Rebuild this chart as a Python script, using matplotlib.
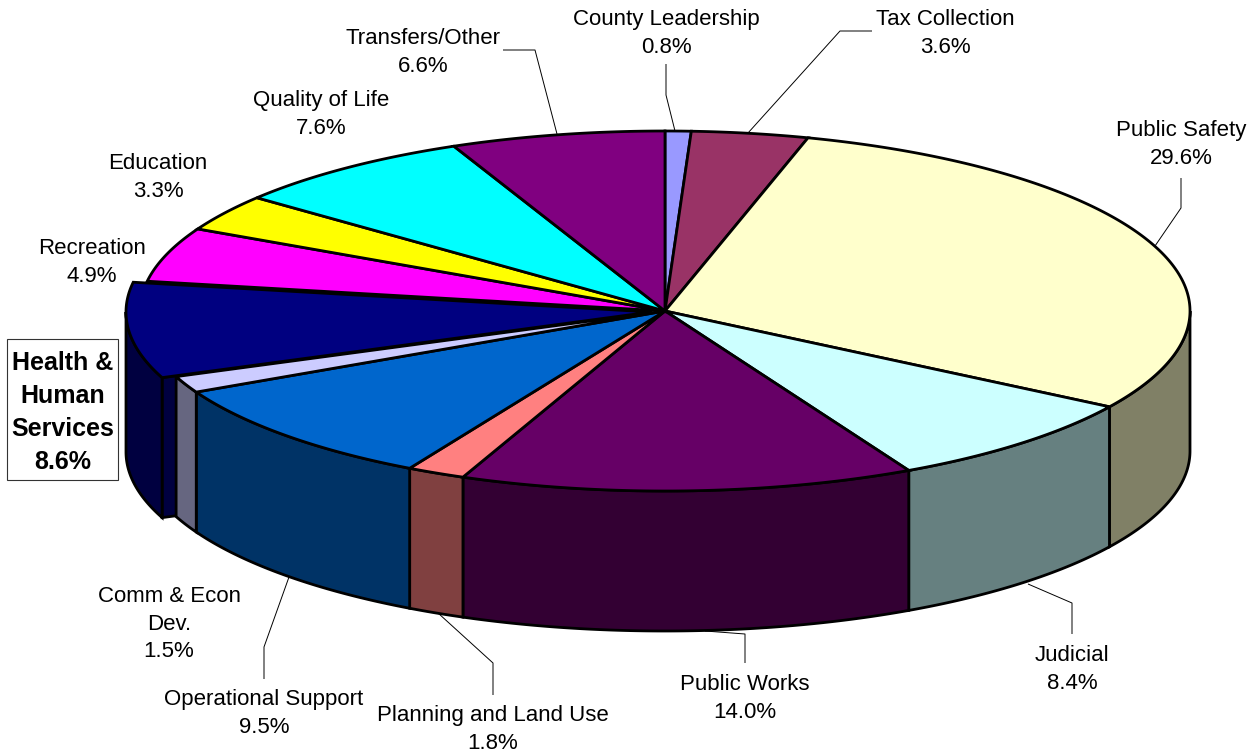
import numpy as np
import matplotlib
matplotlib.use('Agg')
import matplotlib.pyplot as plt
from matplotlib.patches import Polygon, Rectangle

labels = ["County Leadership", "Tax Collection", "Public Safety", "Judicial", "Public Works",
          "Planning and Land Use", "Operational Support", "Comm & Econ\nDev.",
          "Health &\nHuman\nServices", "Recreation", "Education", "Quality of Life", "Transfers/Other"]
shares = [0.8, 3.6, 29.6, 8.4, 14.0, 1.8, 9.5, 1.5, 8.6, 4.9, 3.3, 7.6, 6.6]

top_colors = ['#9999FF', '#993366', '#FFFFCC', '#CCFFFF', '#660066', '#FF8080', '#0066CC',
              '#CCCCFF', '#000080', '#FF00FF', '#FFFF00', '#00FFFF', '#800080']
side_colors = ['#4D4D80', '#4D1A33', '#808066', '#668080', '#330033', '#804040', '#003366',
               '#666680', '#000040', '#800080', '#808000', '#008080', '#400040']

# pie geometry in pixels
cx, cy = 665, 311
rx, ry = 525, 180
depth = 140
exploded = 8
explode_dx, explode_dy = -14, 1

# label text position (x centre, y of first line centre)
label_pos = [(666, 17), (945, 17), (1181, 128), (1072, 653), (745, 682), (493, 713),
             (264, 697), (169, 594), (63, 361), (92, 246), (158, 161), (321, 98), (423, 36)]
leaders = [
    [(666, 64), (666, 95), (675, 131)],
    [(872, 31), (840, 31), (748, 133)],
    [(1181, 178), (1181, 208), (1155, 246)],
    [(1028, 584), (1072, 603), (1072, 634)],
    [(705, 631), (745, 634), (745, 663)],
    [(438, 613), (493, 663), (493, 695)],
    [(289, 577), (264, 647), (264, 679)],
    [(503, 50), (535, 50), (557, 134)],
]

plt.rcParams['font.family'] = ['Liberation Sans', 'DejaVu Sans']
OUTLINE = 2.0
FONT = 16.0


def rim(t0, t1, dx=0, dy=0):
    t = np.linspace(t0, t1, max(int(abs(t1 - t0) * 120), 2))
    return np.column_stack([cx + dx + rx * np.sin(t), cy + dy - ry * np.cos(t)])


def add_poly(ax, pts, color):
    ax.add_patch(Polygon(pts, closed=True, facecolor=color, edgecolor='black',
                         linewidth=OUTLINE, joinstyle='miter'))


def draw_wall(ax, t0, t1, color, dx=0, dy=0):
    # outer wall, only the front half of the rim can be seen
    t0, t1 = max(t0, np.pi / 2), min(t1, 3 * np.pi / 2)
    if t1 <= t0:
        return
    edge = rim(t0, t1, dx, dy)
    add_poly(ax, np.vstack([edge, edge[::-1] + [0, depth]]), color)


def main():
    fig = plt.figure(figsize=(12.52, 7.55), dpi=100)
    ax = fig.add_axes([0, 0, 1, 1])
    ax.set_xlim(0, 1252)
    ax.set_ylim(755, 0)
    ax.axis('off')

    edges = 2 * np.pi * np.cumsum([0] + shares) / sum(shares)

    # exploded slice goes in first, its cut face shows next to the neighbour wall
    t0, t1 = edges[exploded], edges[exploded + 1]
    apex = np.array([cx + explode_dx, cy + explode_dy])
    corner = rim(t0, t0, explode_dx, explode_dy)[0]
    add_poly(ax, [apex, corner, corner + [0, depth], apex + [0, depth]], side_colors[exploded])
    draw_wall(ax, t0, t1, side_colors[exploded], explode_dx, explode_dy)

    for i in range(len(shares)):
        if i != exploded:
            draw_wall(ax, edges[i], edges[i + 1], side_colors[i])

    for i in range(len(shares)):
        if i != exploded:
            add_poly(ax, np.vstack([[cx, cy], rim(edges[i], edges[i + 1])]), top_colors[i])
    add_poly(ax, np.vstack([apex, rim(t0, t1, explode_dx, explode_dy)]), top_colors[exploded])

    for line in leaders:
        xs, ys = zip(*line)
        ax.plot(xs, ys, color='black', linewidth=0.7, solid_capstyle='butt')

    for i, (name, share) in enumerate(zip(labels, shares)):
        x, y = label_pos[i]
        if i == exploded:
            continue
        ax.text(x, y - 8, name + "\n" + f"{share:.1f}%", ha='center', va='top',
                fontsize=FONT, color='black', linespacing=1.41)

    # highlighted slice gets a boxed bold label
    ax.add_patch(Rectangle((7, 339), 111, 141, facecolor='white', edgecolor='#333333', linewidth=0.8))
    x, y = label_pos[exploded]
    ax.text(x, y - 10, labels[exploded] + "\n" + f"{shares[exploded]:.1f}%", ha='center', va='top',
            fontsize=18, fontweight='bold', color='black', linespacing=1.48)

    fig.savefig('out.png', dpi=100, facecolor='white')
    plt.close(fig)


if __name__ == "__main__":
    main()
